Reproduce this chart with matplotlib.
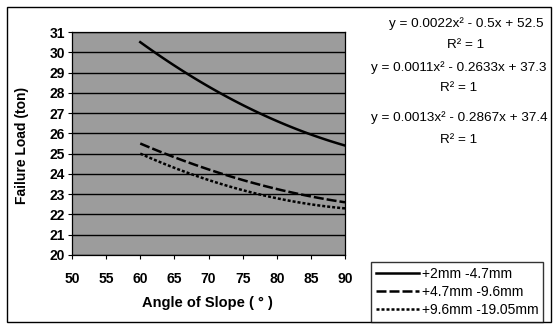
import numpy as np
import matplotlib
matplotlib.use("Agg")
import matplotlib.pyplot as plt
from matplotlib.patches import Rectangle

plt.rcParams['font.family'] = ['Liberation Sans', 'DejaVu Sans']

# ---- data ----
angles = [60, 75, 90]
series_names = ["+2mm -4.7mm", "+4.7mm -9.6mm", "+9.6mm -19.05mm"]
load_2_47 = [30.5, 27.4, 25.4]
load_47_96 = [25.5, 23.7, 22.6]
load_96_1905 = [25.0, 23.2, 22.3]
equations = ["y = 0.0022x² - 0.5x + 52.5", "y = 0.0011x² - 0.2633x + 37.3",
             "y = 0.0013x² - 0.2867x + 37.4"]
r2_text = "R² = 1"
x_ticks = [50, 55, 60, 65, 70, 75, 80, 85, 90]
y_ticks = list(range(20, 32))

W, H = 553, 330
fig = plt.figure(figsize=(W / 100, H / 100), dpi=100)
fig.patch.set_facecolor('white')

def fx(px):
    return px / W

def fy(py):
    return 1 - py / H

ax = fig.add_axes([fx(72), fy(255), fx(345) - fx(72), fy(32) - fy(255)])
ax.set_facecolor('#9c9c9c')

styles = ['-', (0, (4, 1.2)), (0, (1.2, 0.8))]
for vals, name, ls in zip([load_2_47, load_47_96, load_96_1905], series_names, styles):
    coef = np.polyfit(angles, vals, 2)
    xs = np.linspace(angles[0], angles[-1], 100)
    ax.plot(xs, np.polyval(coef, xs), color='black', lw=1.8, ls=ls, label=name)

ax.set_xlim(50, 90)
ax.set_ylim(20, 31)
ax.set_xticks(x_ticks)
ax.set_yticks(y_ticks)
ax.grid(axis='y', color='black', lw=1.0)
ax.set_axisbelow(True)
for s in ax.spines.values():
    s.set_color('black')
    s.set_linewidth(0.9)
ax.tick_params(direction='out', length=3, width=0.8, colors='black', labelsize=10, pad=2)
ax.tick_params(axis='x', pad=9)
for lbl in ax.get_xticklabels() + ax.get_yticklabels():
    lbl.set_fontweight('bold')

fig.text(fx(207), fy(303), "Angle of Slope ( ° )", ha='center', va='center',
         fontsize=10.5, fontweight='bold')
fig.text(fx(22), fy(145), "Failure Load (ton)", ha='center', va='center',
         rotation=90, fontsize=10, fontweight='bold')

# equations
eq_x = [466, 459, 459]
eq_y = [24, 68, 118]
r2_y = [45, 88, 140]
for eq, ex, ey, ry in zip(equations, eq_x, eq_y, r2_y):
    fig.text(fx(ex), fy(ey), eq, ha='center', va='center', fontsize=9.7)
    fig.text(fx(ex), fy(ry), r2_text, ha='center', va='center', fontsize=9.7)

# outer frame
fig.patches.append(Rectangle((fx(7), fy(322)), fx(551) - fx(7), fy(7) - fy(322),
                             transform=fig.transFigure, fill=False,
                             edgecolor='black', lw=1.0))

handles, labels = ax.get_legend_handles_labels()
leg = fig.legend(handles, labels, loc='upper left',
                 bbox_to_anchor=(fx(371), fy(262)), bbox_transform=fig.transFigure,
                 fontsize=10, frameon=True, fancybox=False, edgecolor='black',
                 handlelength=3.1, handletextpad=0.2, borderpad=0.35,
                 labelspacing=0.3, borderaxespad=0)
leg.get_frame().set_linewidth(1.0)
leg.get_frame().set_facecolor('white')

fig.savefig("out.png", dpi=100, facecolor='white')
